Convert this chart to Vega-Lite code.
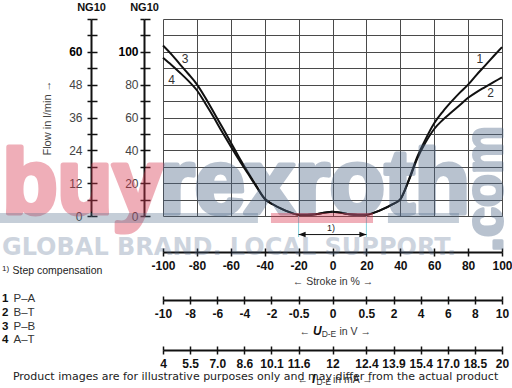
{
  "$schema": "https://vega.github.io/schema/vega-lite/v6.json",
  "width": 339,
  "height": 197,
  "autosize": {"type": "none"},
  "padding": {"left": 163, "top": 19, "right": 10, "bottom": 172},
  "background": "white",
  "config": {
    "view": {"stroke": null},
    "font": "Liberation Sans",
    "axis": {
      "labelFlush": false, "labelOverlap": false, "labelBound": false,
      "domainColor": "#111", "tickColor": "#111", "labelColor": "#111", "titleColor": "#333",
      "gridColor": "#4a4a4a", "gridOpacity": 1, "gridWidth": 1,
      "domainWidth": 2, "tickWidth": 1.5,
      "labelFont": "Liberation Sans", "titleFont": "Liberation Sans"
    }
  },
  "datasets": {
    "curves": [
      {"curve": "3", "stroke": -100, "flow": 103.9}, {"curve": "3", "stroke": -95, "flow": 98.5}, {"curve": "3", "stroke": -90, "flow": 92.4}, {"curve": "3", "stroke": -85, "flow": 86.5}, {"curve": "3", "stroke": -80, "flow": 80.2}, {"curve": "3", "stroke": -75, "flow": 72}, {"curve": "3", "stroke": -70, "flow": 63}, {"curve": "3", "stroke": -65, "flow": 54}, {"curve": "3", "stroke": -60, "flow": 44.8}, {"curve": "3", "stroke": -55, "flow": 35.5}, {"curve": "3", "stroke": -50, "flow": 26.8}, {"curve": "3", "stroke": -45, "flow": 18.5}, {"curve": "3", "stroke": -40, "flow": 10.5}, {"curve": "3", "stroke": -35, "flow": 7.0}, {"curve": "3", "stroke": -30, "flow": 4.3}, {"curve": "3", "stroke": -25, "flow": 2.2}, {"curve": "3", "stroke": -20, "flow": 0.8}, {"curve": "3", "stroke": -15, "flow": 0.8}, {"curve": "3", "stroke": -10, "flow": 1.1}, {"curve": "3", "stroke": -5, "flow": 2.0}, {"curve": "3", "stroke": 0, "flow": 2.6},
      {"curve": "4", "stroke": -100, "flow": 96.4}, {"curve": "4", "stroke": -95, "flow": 92}, {"curve": "4", "stroke": -90, "flow": 87.3}, {"curve": "4", "stroke": -85, "flow": 82.3}, {"curve": "4", "stroke": -80, "flow": 76.6}, {"curve": "4", "stroke": -75, "flow": 68.5}, {"curve": "4", "stroke": -70, "flow": 60}, {"curve": "4", "stroke": -65, "flow": 51}, {"curve": "4", "stroke": -60, "flow": 42.4}, {"curve": "4", "stroke": -55, "flow": 34}, {"curve": "4", "stroke": -50, "flow": 26}, {"curve": "4", "stroke": -45, "flow": 18}, {"curve": "4", "stroke": -40, "flow": 10.5}, {"curve": "4", "stroke": -35, "flow": 7.0}, {"curve": "4", "stroke": -30, "flow": 4.3}, {"curve": "4", "stroke": -25, "flow": 2.2}, {"curve": "4", "stroke": -20, "flow": 0.8}, {"curve": "4", "stroke": -15, "flow": 0.8}, {"curve": "4", "stroke": -10, "flow": 1.1}, {"curve": "4", "stroke": -5, "flow": 2.0}, {"curve": "4", "stroke": 0, "flow": 2.6},
      {"curve": "1", "stroke": 0, "flow": 2.6}, {"curve": "1", "stroke": 5, "flow": 2.0}, {"curve": "1", "stroke": 10, "flow": 1.1}, {"curve": "1", "stroke": 15, "flow": 0.8}, {"curve": "1", "stroke": 20, "flow": 0.8}, {"curve": "1", "stroke": 25, "flow": 2.2}, {"curve": "1", "stroke": 30, "flow": 4.3}, {"curve": "1", "stroke": 35, "flow": 7.0}, {"curve": "1", "stroke": 40, "flow": 10.2}, {"curve": "1", "stroke": 45, "flow": 22}, {"curve": "1", "stroke": 50, "flow": 36}, {"curve": "1", "stroke": 55, "flow": 47}, {"curve": "1", "stroke": 60, "flow": 56.5}, {"curve": "1", "stroke": 65, "flow": 63.5}, {"curve": "1", "stroke": 70, "flow": 69.5}, {"curve": "1", "stroke": 75, "flow": 75}, {"curve": "1", "stroke": 80, "flow": 80}, {"curve": "1", "stroke": 85, "flow": 86}, {"curve": "1", "stroke": 90, "flow": 91.6}, {"curve": "1", "stroke": 95, "flow": 97.3}, {"curve": "1", "stroke": 100, "flow": 102.9},
      {"curve": "2", "stroke": 0, "flow": 2.6}, {"curve": "2", "stroke": 5, "flow": 2.0}, {"curve": "2", "stroke": 10, "flow": 1.1}, {"curve": "2", "stroke": 15, "flow": 0.8}, {"curve": "2", "stroke": 20, "flow": 0.8}, {"curve": "2", "stroke": 25, "flow": 2.2}, {"curve": "2", "stroke": 30, "flow": 4.3}, {"curve": "2", "stroke": 35, "flow": 7.0}, {"curve": "2", "stroke": 40, "flow": 10.2}, {"curve": "2", "stroke": 45, "flow": 21.5}, {"curve": "2", "stroke": 50, "flow": 35}, {"curve": "2", "stroke": 55, "flow": 45}, {"curve": "2", "stroke": 60, "flow": 53}, {"curve": "2", "stroke": 65, "flow": 58.5}, {"curve": "2", "stroke": 70, "flow": 63}, {"curve": "2", "stroke": 75, "flow": 67.5}, {"curve": "2", "stroke": 80, "flow": 72}, {"curve": "2", "stroke": 85, "flow": 75.5}, {"curve": "2", "stroke": 90, "flow": 78.5}, {"curve": "2", "stroke": 95, "flow": 81.5}, {"curve": "2", "stroke": 100, "flow": 84.5}
    ],
    "curveLabels": [
      {"curve": "1", "stroke": 87, "flow": 95.4},
      {"curve": "2", "stroke": 93.3, "flow": 75.1},
      {"curve": "3", "stroke": -87, "flow": 95.4},
      {"curve": "4", "stroke": -94.9, "flow": 82.8}
    ],
    "step": [{"from": -20, "to": 20, "label": "1)"}],
    "legend": [
      {"n": 1, "num": "1", "conn": "P–A"},
      {"n": 2, "num": "2", "conn": "B–T"},
      {"n": 3, "num": "3", "conn": "P–B"},
      {"n": 4, "num": "4", "conn": "A–T"}
    ]
  },
  "resolve": {"axis": {"x": "independent", "y": "independent"}},
  "layer": [
    {
      "data": {"name": "curves"},
      "mark": {"type": "line", "color": "#111", "strokeWidth": 2, "interpolate": "monotone"},
      "encoding": {
        "x": {"field": "stroke", "type": "quantitative", "scale": {"domain": [-100, 100], "nice": false, "zero": false},
              "axis": {"grid": true, "values": [-100, -80, -60, -40, -20, 0, 20, 40, 60, 80, 100], "labels": false, "ticks": false, "domain": false, "title": null}},
        "y": {"field": "flow", "type": "quantitative", "scale": {"domain": [0, 120], "nice": false, "zero": false},
              "axis": {"grid": true, "values": [0, 10, 20, 30, 40, 50, 60, 70, 80, 90, 100, 110, 120], "labels": false, "ticks": false, "domain": false, "title": null}},
        "detail": {"field": "curve", "type": "nominal"}
      }
    },
    {
      "data": {"name": "curveLabels"},
      "mark": {"type": "text", "fontSize": 12, "color": "#333", "align": "center", "baseline": "middle"},
      "encoding": {
        "x": {"field": "stroke", "type": "quantitative",
              "axis": {"orient": "bottom", "offset": 36, "values": [-100, -80, -60, -40, -20, 0, 20, 40, 60, 80, 100], "grid": false, "tickSize": 4, "labelPadding": 4, "labelFontWeight": "bold", "labelFontSize": 12, "labelExpr": "'' + datum.value",
                       "title": "← Stroke in % →", "titleFontWeight": "normal", "titleFontSize": 10.5, "titleY": 29, "titleBaseline": "middle", "titleColor": "#333"}},
        "y": {"field": "flow", "type": "quantitative",
              "axis": {"orient": "left", "offset": 19, "values": [0, 10, 20, 30, 40, 50, 60, 70, 80, 90, 100, 110, 120], "grid": false, "tickSize": 4, "labelPadding": 2, "labelFontSize": 12,
                       "labelExpr": "datum.value % 20 == 0 && datum.value < 120 ? '' + datum.value : ''",
                       "labelFontWeight": {"condition": {"test": "datum.value == 100", "value": "bold"}, "value": "normal"},
                       "labelColor": {"condition": {"test": "datum.value == 100", "value": "#000"}, "value": "#444"},
                       "title": null}},
        "text": {"field": "curve", "type": "nominal"}
      }
    },
    {
      "data": {"name": "curves"},
      "mark": {"type": "line", "opacity": 0},
      "encoding": {
        "x": {"field": "stroke", "type": "quantitative",
              "axis": {"orient": "top", "offset": -233, "values": [-100, -80, -60, -40, -20, 0, 20, 40, 60, 80, 100], "grid": false, "tickSize": 4, "labels": false, "domain": false, "title": null}},
        "y": {"field": "flow", "type": "quantitative",
              "axis": {"orient": "right", "offset": -358, "values": [0, 10, 20, 30, 40, 50, 60, 70, 80, 90, 100, 110, 120], "grid": false, "tickSize": 6, "labels": false, "domain": false,
                       "title": "NG10", "titleAngle": 0, "titleX": 0, "titleY": -12, "titleAlign": "center", "titleBaseline": "middle", "titleFontSize": 11, "titleFontWeight": "bold", "titleColor": "#111"}},
        "detail": {"field": "curve", "type": "nominal"}
      }
    },
    {
      "data": {"name": "curves"},
      "mark": {"type": "line", "opacity": 0},
      "encoding": {
        "x": {"field": "stroke", "type": "quantitative",
              "axis": {"orient": "bottom", "offset": 84, "values": [-100, -84, -68, -52, -36, -20, 0, 20, 36, 52, 68, 84, 100], "grid": false, "tickSize": 4, "labelPadding": 4, "labelFontWeight": "bold", "labelFontSize": 12,
                       "labelExpr": "['-10','-8','-6','-4','-2','-0.5','0','0.5','2','4','6','8','10'][indexof([-100,-84,-68,-52,-36,-20,0,20,36,52,68,84,100], datum.value)]",
                       "title": null}},
        "y": {"field": "flow", "type": "quantitative",
              "axis": {"orient": "left", "offset": 72, "values": [0, 10, 20, 30, 40, 50, 60, 70, 80, 90, 100, 110, 120], "grid": false, "tickSize": 4, "labelPadding": 5, "labelFontSize": 12,
                       "labelExpr": "datum.value % 20 == 0 && datum.value < 120 ? '' + round(datum.value * 0.6) : ''",
                       "labelFontWeight": {"condition": {"test": "datum.value == 100", "value": "bold"}, "value": "normal"},
                       "labelColor": {"condition": {"test": "datum.value == 100", "value": "#000"}, "value": "#444"},
                       "title": "Flow in l/min →", "titleX": -44, "titleBaseline": "middle", "titleFontSize": 11, "titleFontWeight": "normal", "titleColor": "#444"}},
        "detail": {"field": "curve", "type": "nominal"}
      }
    },
    {
      "data": {"name": "curves"},
      "mark": {"type": "line", "opacity": 0},
      "encoding": {
        "x": {"field": "stroke", "type": "quantitative",
              "axis": {"orient": "top", "offset": -281, "values": [-100, -84, -68, -52, -36, -20, 0, 20, 36, 52, 68, 84, 100], "grid": false, "tickSize": 4, "labels": false, "domain": false, "title": null}},
        "y": {"field": "flow", "type": "quantitative",
              "axis": {"orient": "right", "offset": -411, "values": [0, 10, 20, 30, 40, 50, 60, 70, 80, 90, 100, 110, 120], "grid": false, "tickSize": 6, "labels": false, "domain": false,
                       "title": "NG10", "titleAngle": 0, "titleX": 0, "titleY": -12, "titleAlign": "center", "titleBaseline": "middle", "titleFontSize": 11, "titleFontWeight": "bold", "titleColor": "#111"}},
        "detail": {"field": "curve", "type": "nominal"}
      }
    },
    {
      "data": {"name": "curves"},
      "mark": {"type": "line", "opacity": 0},
      "encoding": {
        "x": {"field": "stroke", "type": "quantitative",
              "axis": {"orient": "bottom", "offset": 134, "values": [-100, -84, -68, -52, -36, -20, 0, 20, 36, 52, 68, 84, 100], "grid": false, "tickSize": 4, "labelPadding": 4, "labelFontWeight": "bold", "labelFontSize": 12,
                       "labelExpr": "['4','5.5','7.0','8.6','10.1','11.6','12','12.4','13.9','15.4','17.0','18.5','20'][indexof([-100,-84,-68,-52,-36,-20,0,20,36,52,68,84,100], datum.value)]",
                       "title": null}},
        "y": {"field": "flow", "type": "quantitative", "axis": null},
        "detail": {"field": "curve", "type": "nominal"}
      }
    },
    {
      "data": {"name": "curves"},
      "mark": {"type": "line", "opacity": 0},
      "encoding": {
        "x": {"field": "stroke", "type": "quantitative",
              "axis": {"orient": "top", "offset": -331, "values": [-100, -84, -68, -52, -36, -20, 0, 20, 36, 52, 68, 84, 100], "grid": false, "tickSize": 4, "labels": false, "domain": false, "title": null}},
        "y": {"field": "flow", "type": "quantitative", "axis": null},
        "detail": {"field": "curve", "type": "nominal"}
      }
    },
    {
      "data": {"name": "step"},
      "mark": {"type": "rule", "color": "#86d3df", "strokeWidth": 1},
      "encoding": {
        "x": {"field": "from", "type": "quantitative", "axis": null},
        "y": {"datum": 0, "type": "quantitative", "axis": null},
        "y2": {"datum": -12.8}
      }
    },
    {
      "data": {"name": "step"},
      "mark": {"type": "rule", "color": "#86d3df", "strokeWidth": 1},
      "encoding": {
        "x": {"field": "to", "type": "quantitative", "axis": null},
        "y": {"datum": 0, "type": "quantitative", "axis": null},
        "y2": {"datum": -12.8}
      }
    },
    {
      "data": {"name": "step"},
      "mark": {"type": "rule", "color": "#111", "strokeWidth": 1},
      "encoding": {
        "x": {"field": "from", "type": "quantitative", "axis": null},
        "x2": {"field": "to"},
        "y": {"datum": -11.3, "type": "quantitative", "axis": null}
      }
    },
    {
      "data": {"name": "step"},
      "mark": {"type": "point", "shape": "M0,0L1,-0.4L1,0.4Z", "size": 196, "filled": true, "color": "#111", "opacity": 1},
      "encoding": {
        "x": {"field": "from", "type": "quantitative", "axis": null},
        "y": {"datum": -11.3, "type": "quantitative", "axis": null}
      }
    },
    {
      "data": {"name": "step"},
      "mark": {"type": "point", "shape": "M0,0L-1,-0.4L-1,0.4Z", "size": 196, "filled": true, "color": "#111", "opacity": 1},
      "encoding": {
        "x": {"field": "to", "type": "quantitative", "axis": null},
        "y": {"datum": -11.3, "type": "quantitative", "axis": null}
      }
    },
    {
      "data": {"name": "step"},
      "mark": {"type": "text", "fontSize": 9, "color": "#222", "align": "center", "baseline": "middle"},
      "encoding": {
        "x": {"datum": -0.9, "type": "quantitative", "axis": null},
        "y": {"datum": -7.6, "type": "quantitative", "axis": null},
        "text": {"field": "label", "type": "nominal"}
      }
    },
    {
      "data": {"name": "step"},
      "mark": {"type": "text", "fontSize": 8, "color": "#222", "align": "left", "baseline": "middle"},
      "encoding": {
        "x": {"datum": -195, "type": "quantitative", "axis": null},
        "y": {"datum": -32.3, "type": "quantitative", "axis": null},
        "text": {"field": "label", "type": "nominal"}
      }
    },
    {
      "data": {"values": [{}]},
      "mark": {"type": "text", "text": "Step compensation", "fontSize": 10.5, "color": "#222", "align": "left", "baseline": "alphabetic"},
      "encoding": {
        "x": {"datum": -188.8, "type": "quantitative", "axis": null},
        "y": {"datum": -35.6, "type": "quantitative", "axis": null}
      }
    },
    {
      "data": {"name": "legend"},
      "mark": {"type": "text", "fontSize": 11.5, "fontWeight": "bold", "color": "#111", "align": "left", "baseline": "middle"},
      "encoding": {
        "x": {"datum": -195, "type": "quantitative", "axis": null},
        "y": {"datum": -50.5, "type": "quantitative", "axis": null},
        "yOffset": {"field": "n", "type": "quantitative", "scale": {"domain": [1, 4], "range": [0, 41.5]}},
        "text": {"field": "num", "type": "nominal"}
      }
    },
    {
      "data": {"name": "legend"},
      "mark": {"type": "text", "fontSize": 11.5, "color": "#333", "align": "left", "baseline": "middle"},
      "encoding": {
        "x": {"datum": -188.2, "type": "quantitative", "axis": null},
        "y": {"datum": -50.5, "type": "quantitative", "axis": null},
        "yOffset": {"field": "n", "type": "quantitative", "scale": {"domain": [1, 4], "range": [0, 41.5]}},
        "text": {"field": "conn", "type": "nominal"}
      }
    },
    {
      "data": {"values": [{}]},
      "mark": {"type": "text", "text": "←", "fontSize": 10.5, "color": "#333", "align": "right", "baseline": "alphabetic"},
      "encoding": {"x": {"datum": -13.3, "type": "quantitative", "axis": null}, "y": {"datum": -72.5, "type": "quantitative", "axis": null}}
    },
    {
      "data": {"values": [{}]},
      "mark": {"type": "text", "text": "U", "fontSize": 12, "fontWeight": "bold", "fontStyle": "italic", "color": "#111", "align": "left", "baseline": "alphabetic"},
      "encoding": {"x": {"datum": -11.5, "type": "quantitative", "axis": null}, "y": {"datum": -72.5, "type": "quantitative", "axis": null}}
    },
    {
      "data": {"values": [{}]},
      "mark": {"type": "text", "text": "D-E", "fontSize": 8.5, "color": "#333", "align": "left", "baseline": "alphabetic"},
      "encoding": {"x": {"datum": -6.4, "type": "quantitative", "axis": null}, "y": {"datum": -74, "type": "quantitative", "axis": null}}
    },
    {
      "data": {"values": [{}]},
      "mark": {"type": "text", "text": "in V →", "fontSize": 10.5, "color": "#333", "align": "left", "baseline": "alphabetic"},
      "encoding": {"x": {"datum": 4.1, "type": "quantitative", "axis": null}, "y": {"datum": -72.5, "type": "quantitative", "axis": null}}
    },
    {
      "data": {"values": [{}]},
      "mark": {"type": "text", "text": "←", "fontSize": 10.5, "color": "#333", "align": "right", "baseline": "alphabetic"},
      "encoding": {"x": {"datum": -14.5, "type": "quantitative", "axis": null}, "y": {"datum": -101.7, "type": "quantitative", "axis": null}}
    },
    {
      "data": {"values": [{}]},
      "mark": {"type": "text", "text": "I", "fontSize": 12, "fontWeight": "bold", "fontStyle": "italic", "color": "#111", "align": "left", "baseline": "alphabetic"},
      "encoding": {"x": {"datum": -12.1, "type": "quantitative", "axis": null}, "y": {"datum": -101.7, "type": "quantitative", "axis": null}}
    },
    {
      "data": {"values": [{}]},
      "mark": {"type": "text", "text": "D-E", "fontSize": 8.5, "color": "#333", "align": "left", "baseline": "alphabetic"},
      "encoding": {"x": {"datum": -9.4, "type": "quantitative", "axis": null}, "y": {"datum": -102.9, "type": "quantitative", "axis": null}}
    },
    {
      "data": {"values": [{}]},
      "mark": {"type": "text", "text": "in mA →", "fontSize": 10.5, "color": "#333", "align": "left", "baseline": "alphabetic"},
      "encoding": {"x": {"datum": 0.3, "type": "quantitative", "axis": null}, "y": {"datum": -101.7, "type": "quantitative", "axis": null}}
    },
    {
      "data": {"values": [{}]},
      "mark": {"type": "text", "text": "buy", "font": "Liberation Sans", "fontWeight": "bold", "fontSize": 90, "color": "#d93750", "stroke": "#d93750", "strokeWidth": 5, "strokeJoin": "round", "opacity": 0.4, "align": "left", "baseline": "alphabetic"},
      "encoding": {"x": {"datum": -194.7, "type": "quantitative", "axis": null}, "y": {"datum": 1.8, "type": "quantitative", "axis": null}}
    },
    {
      "data": {"values": [{}]},
      "mark": {"type": "text", "text": "rexroth", "font": "Liberation Sans", "fontWeight": "bold", "fontSize": 90, "color": "#50698a", "stroke": "#50698a", "strokeWidth": 5, "strokeJoin": "round", "opacity": 0.4, "align": "left", "baseline": "alphabetic"},
      "encoding": {"x": {"datum": -102, "type": "quantitative", "axis": null}, "y": {"datum": 1.8, "type": "quantitative", "axis": null}}
    },
    {
      "data": {"values": [{}]},
      "mark": {"type": "text", "text": ".com", "font": "Liberation Sans", "fontWeight": "bold", "fontSize": 54, "angle": 270, "color": "#50698a", "stroke": "#50698a", "strokeWidth": 3, "strokeJoin": "round", "opacity": 0.4, "align": "left", "baseline": "alphabetic"},
      "encoding": {"x": {"datum": 100, "type": "quantitative", "axis": null}, "y": {"datum": -21.9, "type": "quantitative", "axis": null}}
    },
    {
      "data": {"values": [{}]},
      "mark": {"type": "text", "text": "GLOBAL BRAND. LOCAL SUPPORT.", "font": "DejaVu Sans", "fontWeight": "bold", "fontSize": 24, "color": "#50698a", "opacity": 0.28, "align": "left", "baseline": "alphabetic"},
      "encoding": {"x": {"datum": -195, "type": "quantitative", "axis": null}, "y": {"datum": -23.75, "type": "quantitative", "axis": null}}
    },
    {
      "data": {"values": [{}]},
      "mark": {"type": "rect", "color": "#50698a", "opacity": 0.33},
      "encoding": {"x": {"datum": -196.2, "type": "quantitative", "axis": null}, "x2": {"datum": -44.0}, "y": {"datum": 1.8, "type": "quantitative", "axis": null}, "y2": {"datum": -4.3}}
    },
    {
      "data": {"values": [{}]},
      "mark": {"type": "rect", "color": "#d93750", "opacity": 0.4},
      "encoding": {"x": {"datum": -36.3, "type": "quantitative", "axis": null}, "x2": {"datum": 23.9}, "y": {"datum": 1.8, "type": "quantitative", "axis": null}, "y2": {"datum": -4.3}}
    },
    {
      "data": {"values": [{}]},
      "mark": {"type": "rect", "color": "#50698a", "opacity": 0.33},
      "encoding": {"x": {"datum": 32.7, "type": "quantitative", "axis": null}, "x2": {"datum": 74.6}, "y": {"datum": 1.8, "type": "quantitative", "axis": null}, "y2": {"datum": -4.3}}
    },
    {
      "data": {"values": [{}]},
      "mark": {"type": "text", "text": "Product images are for illustrative purposes only and may differ from the actual product", "font": "DejaVu Sans", "fontSize": 11, "color": "#222", "align": "center", "baseline": "alphabetic"},
      "encoding": {"x": {"datum": -45.4, "type": "quantitative", "axis": null}, "y": {"datum": -99.6, "type": "quantitative", "axis": null}}
    }
  ]
}
